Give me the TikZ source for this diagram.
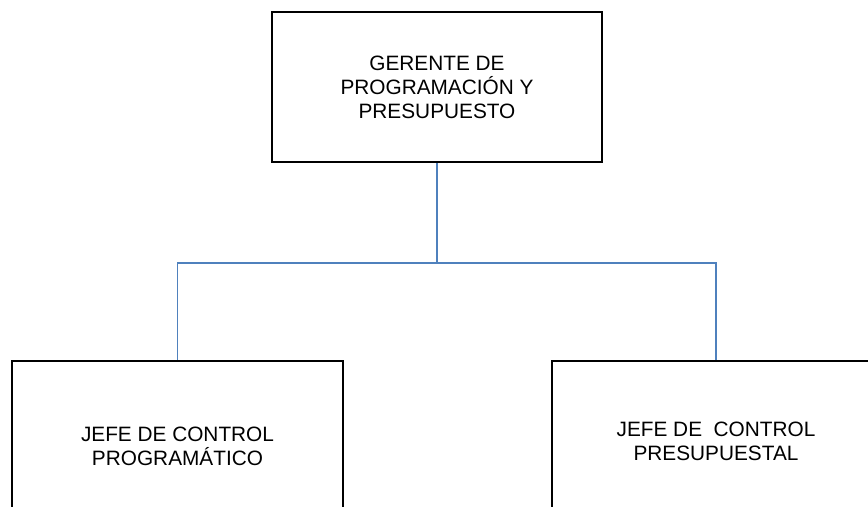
\documentclass[tikz,border=0pt]{standalone}
\usepackage{fontspec}
\setmainfont{Liberation Sans}
\definecolor{connblue}{HTML}{4F81BD}
\begin{document}
\begin{tikzpicture}[x=0.75pt,y=-0.75pt,
  orgbox/.style={draw=black,line width=1.5pt,fill=white,rectangle,inner sep=0pt,
    align=center,font=\fontsize{15.6pt}{18pt}\selectfont},
  conn/.style={draw=connblue,line width=1.2pt}]
\useasboundingbox (0,0) rectangle (868,507);
\clip (0,0) rectangle (868,507);
\node[orgbox,minimum width=247.5pt,minimum height=112.5pt] (top) at (437,87)
  {GERENTE DE\\PROGRAMACIÓN Y\hspace*{.28em}\\PRESUPUESTO};
\node[orgbox,minimum width=248.25pt,minimum height=128.6pt] (left) at (177.5,446.7)
  {JEFE DE CONTROL\\PROGRAMÁTICO};
\node[orgbox,minimum width=246pt,minimum height=120pt] (right) at (716,441)
  {JEFE DE \ CONTROL\\PRESUPUESTAL};
\draw[conn] (top.south) -- ++(0,100) -| (left.north);
\draw[conn] (top.south) -- ++(0,100) -| (right.north);
\end{tikzpicture}
\end{document}
